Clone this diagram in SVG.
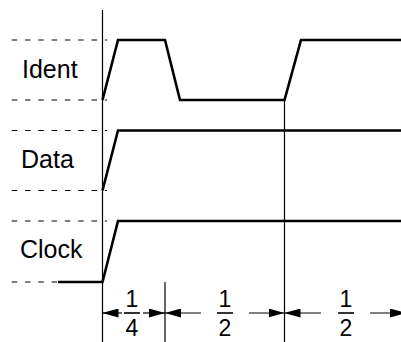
<svg xmlns="http://www.w3.org/2000/svg" width="401" height="342" viewBox="0 0 401 342">
<style>
.sig{fill:none;stroke:#000;stroke-width:2.6;stroke-linejoin:miter}
.dash{fill:none;stroke:#000;stroke-width:1.1;stroke-dasharray:5.5 7.8}
.thin{fill:none;stroke:#000;stroke-width:1.2}
.lbl{font-family:"Liberation Sans",Arial,sans-serif;font-size:25px;fill:#000}
.frac{font-family:"Liberation Sans",Arial,sans-serif;font-size:23px;fill:#000;text-anchor:middle}
.bar{stroke:#000;stroke-width:1.6}
</style>
<defs>
<marker id="ah" viewBox="0 0 16 9" refX="16" refY="4.5" markerWidth="16" markerHeight="9" markerUnits="userSpaceOnUse" orient="auto">
<path d="M0,0 L16,4.5 L0,9 Z" fill="#000"/>
</marker>
</defs>
<g id="guides">
<line class="thin" x1="102.5" y1="10" x2="102.5" y2="342"/>
<line class="thin" x1="284.5" y1="100" x2="284.5" y2="342"/>
<line class="thin" x1="165" y1="282" x2="165" y2="342"/>
</g>
<g id="ident">
<line class="dash" x1="11.7" y1="40" x2="107" y2="40"/>
<line class="dash" x1="11.7" y1="100" x2="107" y2="100"/>
<text class="lbl" x="22" y="78">Ident</text>
<polyline class="sig" points="102.5,100 118,40 165,40 180,100 284.5,100 301,40 402,40"/>
</g>
<g id="data">
<line class="dash" x1="11.7" y1="130.5" x2="107" y2="130.5"/>
<line class="dash" x1="11.7" y1="190.5" x2="107" y2="190.5"/>
<text class="lbl" x="21" y="168">Data</text>
<polyline class="sig" points="102.5,190.5 118,130.5 402,130.5"/>
</g>
<g id="clock">
<line class="dash" x1="11.7" y1="221" x2="107" y2="221"/>
<line class="dash" x1="11.7" y1="282" x2="58" y2="282"/>
<text class="lbl" x="20" y="258">Clock</text>
<polyline class="sig" points="58,282 102.5,282 118,221 402,221"/>
</g>
<g id="connectors">
<line class="thin" x1="122" y1="313" x2="102.5" y2="313" marker-end="url(#ah)"/>
<line class="thin" x1="143" y1="313" x2="165" y2="313" marker-end="url(#ah)"/>
<line class="thin" x1="201" y1="313" x2="165" y2="313" marker-end="url(#ah)"/>
<line class="thin" x1="249" y1="313" x2="284.5" y2="313" marker-end="url(#ah)"/>
<line class="thin" x1="321" y1="313" x2="284.5" y2="313" marker-end="url(#ah)"/>
<line class="thin" x1="370" y1="313" x2="406" y2="313" marker-end="url(#ah)"/>
</g>
<g id="fractions">
<text class="frac" x="132" y="307">1</text>
<line class="bar" x1="124" y1="313" x2="140" y2="313"/>
<text class="frac" x="132" y="336">4</text>
<text class="frac" x="225" y="307">1</text>
<line class="bar" x1="217" y1="313" x2="233" y2="313"/>
<text class="frac" x="225" y="336">2</text>
<text class="frac" x="346" y="307">1</text>
<line class="bar" x1="338" y1="313" x2="354" y2="313"/>
<text class="frac" x="346" y="336">2</text>
</g>
</svg>
